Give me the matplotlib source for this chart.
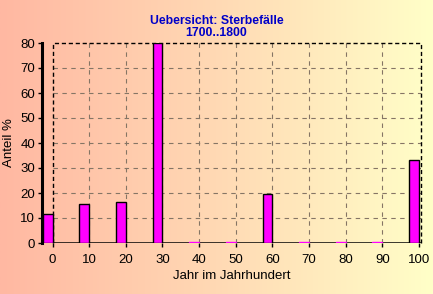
import numpy as np
import matplotlib
matplotlib.use("Agg")
import matplotlib.pyplot as plt
from matplotlib.colors import LinearSegmentedColormap

plt.rcParams['font.family'] = ['Liberation Sans', 'DejaVu Sans']

years = [0, 10, 20, 30, 40, 50, 60, 70, 80, 90, 100]
anteil = [11.6, 15.7, 16.4, 80, 0.3, 0.3, 19.6, 0.3, 0.3, 0.3, 33.3]
xticks = [0, 10, 20, 30, 40, 50, 60, 70, 80, 90, 100]
yticks = [0, 10, 20, 30, 40, 50, 60, 70, 80]
title = "Uebersicht: Sterbefälle\n1700..1800"
xlabel = "Jahr im Jahrhundert"
ylabel = "Anteil %"

W, H = 433, 294
fig = plt.figure(figsize=(W / 100, H / 100), dpi=100)

# background gradient
bg = fig.add_axes([0, 0, 1, 1], zorder=-10)
cmap = LinearSegmentedColormap.from_list("bg", ["#ffb8a2", "#ffd9b4", "#ffffc8"])
bg.imshow(np.linspace(0, 1, 256)[None, :], aspect='auto', cmap=cmap, extent=[0, 1, 0, 1])
bg.set_axis_off()

ax = fig.add_axes([42 / W, (H - 243) / H, (421 - 42) / W, 200 / H])
ax.patch.set_alpha(0)
ax.set_xlim(-2.87, 100.55)
ax.set_ylim(0, 80)

# grid
for x in xticks[1:-1]:
    ax.plot([x, x], [0, 80], ls=(0, (4, 4)), color='#857565', lw=0.8, zorder=1)
for y in yticks[1:-1]:
    ax.plot([0, 100.5], [y, y], ls=(0, (4, 4)), color='#857565', lw=0.8, zorder=1)
# dashed box
ax.plot([0, 0, 100.5, 100.5], [0, 80, 80, 0], ls=(0, (3, 2)), color='black', lw=1, zorder=1, clip_on=False)

edges = ['black' if v > 1 else '#ff00ff' for v in anteil]
ax.bar(years, anteil, width=-2.7, align='edge', color='#ff00ff', edgecolor=edges, lw=1, zorder=3)

for s in ['top', 'right', 'bottom']:
    ax.spines[s].set_visible(False)
ax.spines['left'].set_linewidth(2.2)
ax.axhline(0, color='black', lw=1.8, zorder=2)

ax.set_xticks(xticks)
ax.set_yticks(yticks)
ax.tick_params(axis='both', labelsize=9.5, length=3, width=1, direction='out', pad=2, colors='black')
ax.tick_params(axis='x', pad=5)

ax.set_xlabel(xlabel, fontsize=9.5, labelpad=3)
ax.set_ylabel(ylabel, fontsize=9.5, labelpad=4)

fig.text(0.5, 1 - 27 / H, title, ha='center', va='center', color='#0000c8',
         fontsize=8.8, fontweight='bold', linespacing=1.0)

fig.savefig("out.png", dpi=100)
